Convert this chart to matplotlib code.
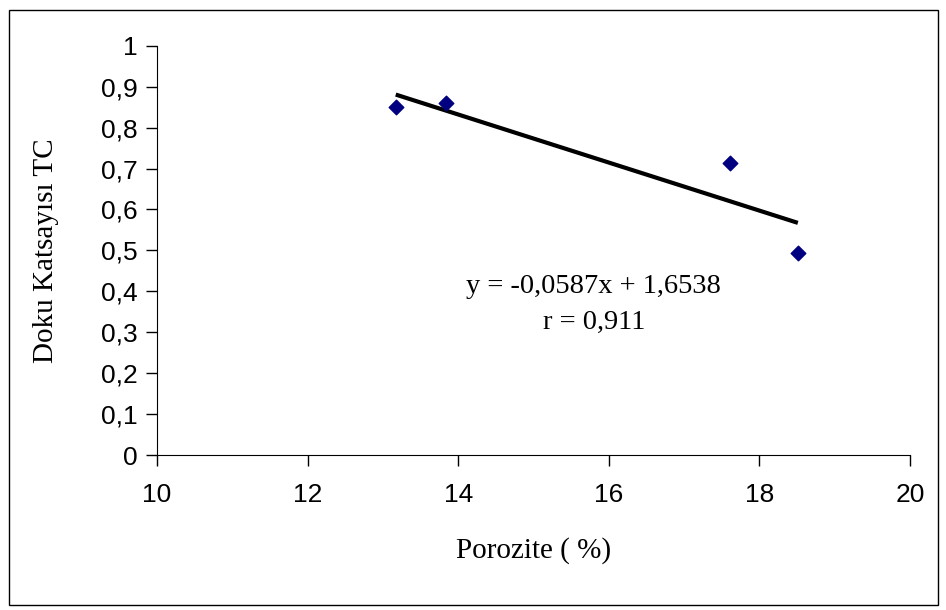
import matplotlib.pyplot as plt
from matplotlib.patches import Rectangle
import numpy as np

# data
porozite = [13.17, 13.84, 17.61, 18.51]
doku = [0.851, 0.861, 0.714, 0.494]

# trend line as printed on the chart
slope = -0.0587
intercept = 1.6538
r_value = "0,911"

xticks = [10, 12, 14, 16, 18, 20]
yticks = [0, 0.1, 0.2, 0.3, 0.4, 0.5, 0.6, 0.7, 0.8, 0.9, 1]

fig = plt.figure(figsize=(9.46, 6.10), dpi=100)
ax = fig.add_axes([0.166, 0.254, 0.796, 0.671])

# trend line
xt = np.array([min(porozite), max(porozite)])
ax.plot(xt, slope * xt + intercept, color="black", lw=3, solid_capstyle="butt", zorder=2)

# points
ax.scatter(porozite, doku, marker="D", s=55, color="#000080", zorder=3)

ax.set_xlim(10, 20)
ax.set_ylim(0, 1)
ax.set_xticks(xticks)
ax.set_yticks(yticks)
ax.set_xticklabels([str(t) for t in xticks])
ax.set_yticklabels([("%g" % t).replace(".", ",") for t in yticks])

for lab in ax.get_xticklabels() + ax.get_yticklabels():
    lab.set_family("Liberation Sans")
    lab.set_fontsize(19)

ax.tick_params(axis="both", direction="out", length=8, width=1, color="black")
ax.tick_params(axis="x", pad=12)
ax.tick_params(axis="y", pad=6)
ax.spines["top"].set_visible(False)
ax.spines["right"].set_visible(False)

ax.set_xlabel("Porozite ( %)", family="Liberation Serif", fontsize=21, labelpad=22)
ax.set_ylabel("Doku Katsayısı TC", family="Liberation Serif", fontsize=21, labelpad=30)

eq = "y = " + ("%.4f" % slope).replace(".", ",") + "x + " + ("%.4f" % intercept).replace(".", ",")
ax.text(15.8, 0.412, eq, family="Liberation Serif", fontsize=20.5, ha="center", va="center")
ax.text(15.8, 0.323, "r = " + r_value, family="Liberation Serif", fontsize=20.5, ha="center", va="center")

# outer chart frame
fig.patches.append(Rectangle((9 / 946, 1 - 605 / 610), 929 / 946, 595 / 610,
                             transform=fig.transFigure, fill=False, edgecolor="black", lw=1))

plt.savefig("out.png", dpi=100)
